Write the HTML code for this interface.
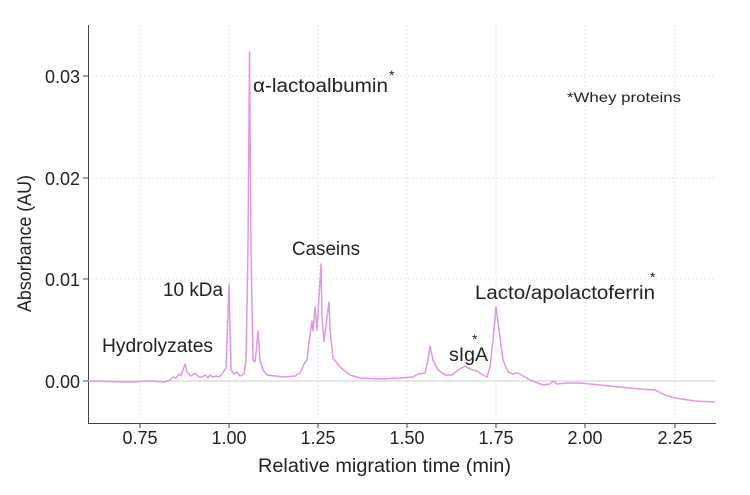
<!DOCTYPE html>
<html><head><style>
body{margin:0;background:#fff}
svg text{font-family:"Liberation Sans",sans-serif;fill:#222}
</style></head><body>
<svg width="750" height="490" viewBox="0 0 750 490" xmlns="http://www.w3.org/2000/svg">
<g stroke="#e6e6e6" stroke-dasharray="2,2" stroke-width="1">
<line x1="140" y1="25" x2="140" y2="422"/><line x1="229" y1="25" x2="229" y2="422"/><line x1="318" y1="25" x2="318" y2="422"/><line x1="407" y1="25" x2="407" y2="422"/><line x1="496" y1="25" x2="496" y2="422"/><line x1="585" y1="25" x2="585" y2="422"/><line x1="675" y1="25" x2="675" y2="422"/>
<line x1="88" y1="76" x2="716" y2="76"/><line x1="88" y1="178" x2="716" y2="178"/><line x1="88" y1="279" x2="716" y2="279"/>
</g>
<line x1="88" y1="381" x2="716" y2="381" stroke="#ddd" stroke-width="1.5"/>
<g stroke="#444" stroke-width="1">
<line x1="88.5" y1="25" x2="88.5" y2="423"/><line x1="88" y1="423.5" x2="716" y2="423.5"/>
<line x1="140" y1="423" x2="140" y2="428"/><line x1="229" y1="423" x2="229" y2="428"/><line x1="318" y1="423" x2="318" y2="428"/><line x1="407" y1="423" x2="407" y2="428"/><line x1="496" y1="423" x2="496" y2="428"/><line x1="585" y1="423" x2="585" y2="428"/><line x1="675" y1="423" x2="675" y2="428"/>
<line x1="83" y1="76" x2="88" y2="76"/><line x1="83" y1="178" x2="88" y2="178"/><line x1="83" y1="279" x2="88" y2="279"/><line x1="83" y1="381" x2="88" y2="381"/>
</g>
<g font-size="18" text-anchor="end">
<text x="80" y="83">0.03</text><text x="80" y="185">0.02</text><text x="80" y="286">0.01</text><text x="80" y="388">0.00</text>
</g>
<g font-size="18" text-anchor="middle">
<text x="140" y="444">0.75</text><text x="229" y="444">1.00</text><text x="318" y="444">1.25</text><text x="407" y="444">1.50</text><text x="496" y="444">1.75</text><text x="585" y="444">2.00</text><text x="675" y="444">2.25</text>
</g>
<g font-size="19">
<text x="258" y="472" textLength="253" lengthAdjust="spacingAndGlyphs">Relative migration time (min)</text>
<text transform="translate(31,312) rotate(-90)" textLength="137" lengthAdjust="spacingAndGlyphs">Absorbance (AU)</text>
<text x="102" y="352" textLength="111" lengthAdjust="spacingAndGlyphs">Hydrolyzates</text>
<text x="163" y="296" textLength="60" lengthAdjust="spacingAndGlyphs">10 kDa</text>
<text x="253" y="92" textLength="135" lengthAdjust="spacingAndGlyphs">α-lactoalbumin</text>
<text x="292" y="255" textLength="68" lengthAdjust="spacingAndGlyphs">Caseins</text>
<text x="449" y="361" textLength="39" lengthAdjust="spacingAndGlyphs">sIgA</text>
<text x="475" y="299" textLength="180" lengthAdjust="spacingAndGlyphs">Lacto/apolactoferrin</text>
</g>
<g font-size="14">
<text x="389" y="80">*</text><text x="472" y="344">*</text><text x="650" y="282">*</text>
<text x="567" y="102" textLength="114" lengthAdjust="spacingAndGlyphs">*Whey proteins</text>
</g>
<path fill="none" stroke="#df98e4" stroke-width="1.5" stroke-linejoin="round" d="M88 381 L130 382 L150 381 L165 382 L170 380 L173 377 L176 378 L179 374 L181 376 L185 364 L187 372 L191 376 L195 373 L199 377 L202 377 L205 375 L208 378 L210 375 L213 377 L216 376 L219 377 L222 374 L226 368 L229 284 L231 370 L234 374 L237 372 L240 376 L244 374 L246 360 L248 250 L249.5 52 L251 250 L253 360 L255 362 L257 343 L258 331 L260 360 L263 370 L267 375 L275 376 L285 377 L295 376 L300 373 L304 364 L307 360 L309 342 L312 321 L313 331 L315 307 L317 330 L321 264 L322 318 L324 342 L326 325 L329 302 L330 330 L333 358 L340 367 L350 375 L360 378 L380 379 L400 378 L413 377 L418 374 L425 373 L428 360 L430 346 L433 360 L438 370 L445 375 L452 375 L458 370 L465 366 L470 369 L477 371 L483 375 L487 377 L490 367 L493 340 L496 307 L499 330 L503 360 L508 372 L513 374 L518 373 L523 376 L530 380 L543 385 L550 384 L553 381 L557 384 L567 383 L580 383 L600 385 L620 387 L640 389 L655 390 L665 395 L675 398 L695 401 L715 402"/>
</svg>
</body></html>
